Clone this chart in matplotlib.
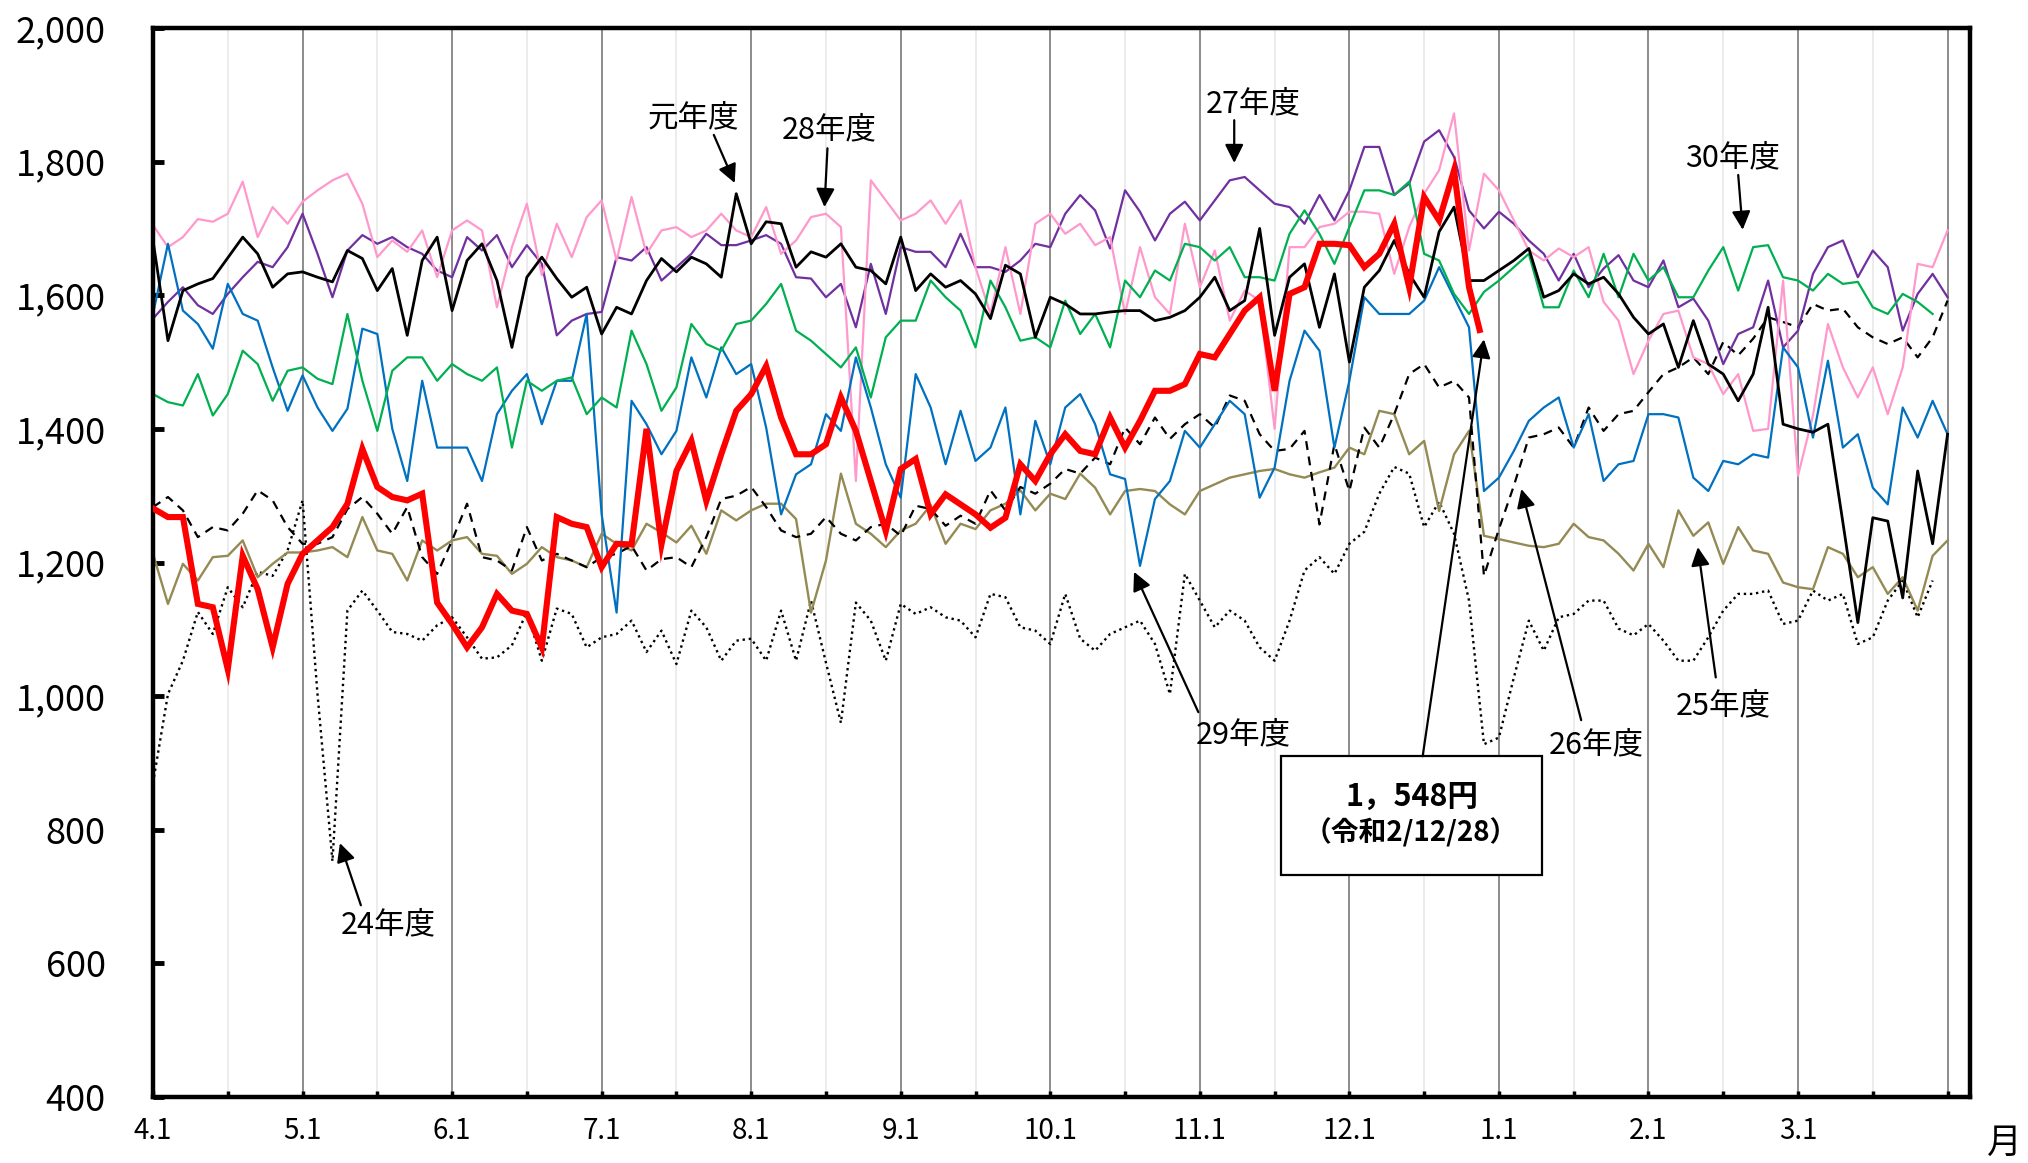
import numpy as np
import matplotlib
matplotlib.use("Agg")
import matplotlib.pyplot as plt
from matplotlib.patches import Rectangle

plt.rcParams["font.family"] = ["Noto Sans CJK JP", "DejaVu Sans"]

MONTH_LABELS = ["4.1", "5.1", "6.1", "7.1", "8.1", "9.1", "10.1", "11.1",
                "12.1", "1.1", "2.1", "3.1"]

month_pos = np.arange(121) / 10

h24 = [870, 1003, 1053, 1126, 1093, 1163, 1133, 1186, 1180, 1218,
       1293, 1003, 753, 1128, 1158, 1128, 1096, 1093, 1083, 1106,
       1118, 1088, 1056, 1058, 1076, 1126, 1053, 1131, 1123, 1073,
       1088, 1093, 1113, 1066, 1098, 1048, 1128, 1103, 1053, 1083,
       1086, 1053, 1128, 1053, 1143, 1050, 960, 1140, 1113, 1053,
       1138, 1123, 1133, 1118, 1113, 1088, 1153, 1148, 1103, 1098,
       1078, 1153, 1086, 1068, 1093, 1103, 1113, 1078, 1003, 1183,
       1143, 1103, 1128, 1113, 1073, 1053, 1113, 1188, 1208, 1183,
       1228, 1246, 1303, 1343, 1333, 1253, 1291, 1243, 1143, 928,
       938, 1028, 1113, 1068, 1118, 1123, 1143, 1143, 1101, 1091,
       1108, 1083, 1053, 1053, 1088, 1128, 1153, 1153, 1158, 1108,
       1113, 1158, 1143, 1153, 1078, 1088, 1143, 1173, 1118, 1173, np.nan]

h25 = [1213, 1138, 1198, 1173, 1208, 1210, 1233, 1178, 1198, 1215,
       1215, 1218, 1223, 1208, 1268, 1218, 1213, 1173, 1233, 1218,
       1233, 1238, 1213, 1210, 1183, 1198, 1223, 1208, 1203, 1193,
       1243, 1228, 1218, 1258, 1245, 1230, 1255, 1213, 1278, 1263,
       1278, 1288, 1288, 1265, 1125, 1203, 1333, 1258, 1243, 1223,
       1248, 1258, 1286, 1228, 1258, 1250, 1278, 1288, 1308, 1278,
       1303, 1295, 1333, 1312, 1272, 1307, 1310, 1307, 1287, 1272,
       1307, 1317, 1327, 1332, 1337, 1340, 1332, 1327, 1335, 1342,
       1372, 1362, 1427, 1422, 1362, 1382, 1277, 1362, 1397, 1240,
       1235, 1230, 1225, 1223, 1228, 1258, 1238, 1233, 1213, 1188,
       1228, 1193, 1278, 1240, 1260, 1198, 1253, 1218, 1213, 1170,
       1163, 1160, 1223, 1213, 1178, 1193, 1153, 1178, 1128, 1210, 1233]

h26 = [1283, 1298, 1278, 1238, 1253, 1248, 1273, 1308, 1293, 1253,
       1228, 1228, 1238, 1280, 1298, 1273, 1243, 1283, 1208, 1183,
       1233, 1288, 1208, 1203, 1188, 1253, 1203, 1213, 1203, 1193,
       1208, 1213, 1225, 1188, 1205, 1208, 1193, 1238, 1295, 1300,
       1313, 1283, 1248, 1238, 1243, 1268, 1243, 1233, 1253, 1258,
       1240, 1285, 1280, 1255, 1270, 1258, 1308, 1278, 1313, 1303,
       1318, 1340, 1333, 1357, 1347, 1402, 1377, 1417, 1385, 1407,
       1422, 1402, 1450, 1442, 1392, 1367, 1370, 1397, 1257, 1377,
       1307, 1402, 1372, 1422, 1482, 1497, 1462, 1472, 1447, 1180,
       1250, 1315, 1387, 1392, 1402, 1372, 1432, 1397, 1422, 1427,
       1455, 1482, 1492, 1507, 1482, 1530, 1510, 1535, 1567, 1560,
       1552, 1587, 1577, 1580, 1552, 1537, 1527, 1537, 1507, 1537, 1592]

h27 = [1565, 1590, 1612, 1585, 1572, 1602, 1627, 1650, 1642, 1672,
       1722, 1662, 1597, 1667, 1690, 1677, 1687, 1672, 1662, 1637,
       1627, 1687, 1667, 1690, 1642, 1675, 1647, 1540, 1562, 1572,
       1575, 1657, 1652, 1672, 1622, 1642, 1662, 1692, 1675, 1675,
       1682, 1690, 1677, 1627, 1625, 1597, 1617, 1552, 1647, 1572,
       1672, 1665, 1665, 1642, 1692, 1642, 1642, 1635, 1652, 1677,
       1672, 1722, 1750, 1727, 1670, 1757, 1725, 1682, 1722, 1740,
       1712, 1742, 1772, 1777, 1757, 1737, 1732, 1707, 1750, 1712,
       1757, 1822, 1822, 1750, 1767, 1830, 1847, 1807, 1727, 1700,
       1725, 1707, 1682, 1662, 1622, 1662, 1612, 1640, 1660, 1622,
       1612, 1652, 1582, 1595, 1562, 1497, 1542, 1552, 1622, 1522,
       1547, 1632, 1672, 1682, 1627, 1667, 1642, 1547, 1602, 1632, 1597]

h28 = [1705, 1672, 1687, 1714, 1710, 1722, 1770, 1687, 1732, 1707,
       1740, 1757, 1772, 1782, 1737, 1657, 1682, 1665, 1697, 1627,
       1697, 1712, 1697, 1582, 1672, 1737, 1630, 1707, 1657, 1717,
       1742, 1652, 1747, 1662, 1697, 1702, 1687, 1697, 1722, 1697,
       1687, 1732, 1662, 1682, 1717, 1722, 1702, 1322, 1772, 1742,
       1712, 1722, 1742, 1707, 1742, 1642, 1572, 1672, 1572, 1707,
       1722, 1692, 1707, 1675, 1687, 1572, 1672, 1597, 1572, 1707,
       1612, 1667, 1562, 1607, 1592, 1400, 1672, 1672, 1702, 1707,
       1725, 1725, 1722, 1632, 1702, 1752, 1787, 1872, 1667, 1782,
       1757, 1712, 1667, 1652, 1670, 1657, 1672, 1590, 1562, 1482,
       1532, 1572, 1577, 1507, 1497, 1452, 1482, 1397, 1400, 1622,
       1330, 1420, 1557, 1492, 1447, 1492, 1422, 1492, 1647, 1642, 1697]

h29 = [1572, 1677, 1577, 1557, 1520, 1617, 1572, 1562, 1492, 1427,
       1480, 1432, 1397, 1430, 1550, 1542, 1400, 1322, 1472, 1372,
       1372, 1372, 1322, 1422, 1457, 1482, 1407, 1472, 1472, 1572,
       1272, 1125, 1442, 1407, 1362, 1397, 1507, 1447, 1522, 1482,
       1497, 1402, 1272, 1332, 1347, 1422, 1397, 1507, 1432, 1347,
       1297, 1482, 1432, 1347, 1427, 1352, 1372, 1432, 1272, 1412,
       1347, 1432, 1452, 1407, 1332, 1325, 1195, 1295, 1322, 1397,
       1372, 1407, 1442, 1422, 1297, 1342, 1472, 1547, 1517, 1372,
       1472, 1597, 1572, 1572, 1572, 1592, 1642, 1597, 1552, 1307,
       1327, 1367, 1412, 1432, 1447, 1372, 1422, 1322, 1347, 1352,
       1422, 1422, 1417, 1327, 1307, 1352, 1347, 1362, 1357, 1522,
       1492, 1387, 1502, 1372, 1392, 1312, 1287, 1432, 1387, 1442, 1392]

h30 = [1452, 1440, 1435, 1482, 1420, 1452, 1517, 1497, 1442, 1487,
       1492, 1475, 1467, 1572, 1472, 1397, 1487, 1507, 1507, 1472,
       1497, 1482, 1472, 1492, 1372, 1472, 1457, 1472, 1477, 1422,
       1447, 1432, 1547, 1497, 1427, 1462, 1557, 1527, 1517, 1557,
       1562, 1587, 1617, 1547, 1532, 1512, 1492, 1522, 1447, 1537,
       1562, 1562, 1622, 1597, 1577, 1522, 1622, 1582, 1532, 1537,
       1522, 1592, 1542, 1572, 1522, 1622, 1597, 1637, 1622, 1677,
       1672, 1652, 1672, 1627, 1627, 1622, 1692, 1727, 1692, 1647,
       1702, 1757, 1757, 1750, 1770, 1662, 1652, 1602, 1572, 1605,
       1622, 1642, 1662, 1582, 1582, 1637, 1597, 1662, 1597, 1662,
       1622, 1642, 1597, 1597, 1637, 1672, 1607, 1672, 1675, 1627,
       1622, 1607, 1632, 1617, 1620, 1582, 1572, 1602, 1590, 1572, np.nan]

r1 = [1682, 1532, 1607, 1617, 1625, 1656, 1687, 1662, 1612, 1632,
      1635, 1627, 1620, 1667, 1655, 1607, 1640, 1540, 1652, 1687,
      1577, 1652, 1677, 1622, 1522, 1627, 1657, 1625, 1597, 1612,
      1542, 1582, 1572, 1622, 1655, 1635, 1657, 1647, 1627, 1752,
      1677, 1710, 1707, 1642, 1665, 1657, 1677, 1642, 1637, 1617,
      1687, 1607, 1632, 1612, 1622, 1602, 1565, 1645, 1632, 1537,
      1597, 1587, 1572, 1572, 1575, 1577, 1577, 1562, 1567, 1577,
      1597, 1627, 1577, 1592, 1700, 1540, 1627, 1647, 1552, 1632,
      1500, 1612, 1637, 1682, 1632, 1597, 1695, 1732, 1622, 1622,
      1637, 1652, 1670, 1597, 1607, 1632, 1617, 1627, 1602, 1567,
      1542, 1557, 1492, 1562, 1497, 1482, 1442, 1482, 1582, 1407,
      1400, 1395, 1407, 1260, 1110, 1267, 1262, 1147, 1337, 1228, 1392]

# current year (令和2年度), up to 12/28
r2 = [1281, 1268, 1268, 1138, 1133, 1040, 1210, 1160, 1073, 1168,
      1213, 1233, 1253, 1288, 1370, 1313, 1298, 1293, 1303, 1140,
      1108, 1073, 1103, 1153, 1128, 1123, 1073, 1268, 1258, 1253,
      1193, 1228, 1227, 1400, 1227, 1337, 1382, 1292, 1362, 1427,
      1452, 1494, 1417, 1362, 1362, 1377, 1447, 1397, 1322, 1247,
      1340, 1355, 1272, 1302, 1287, 1272, 1252, 1267, 1347, 1322,
      1362, 1392, 1367, 1362, 1417, 1372, 1412, 1457, 1457, 1467,
      1512, 1507, 1542, 1577, 1597, 1457, 1602, 1612, 1677, 1677,
      1675, 1642, 1662, 1707, 1612, 1747, 1712, 1787, 1612]
r2_last_pos = 8 + 27 / 31   # 12/28
r2_last = 1548

# (label, text pos, arrow tail, arrow tip) in data units
LABELS = [
    ("元年度", (3.61, 1865), (3.75, 1840), (3.89, 1768)),
    ("28年度", (4.52, 1847), (4.51, 1820), (4.49, 1732)),
    ("27年度", (7.36, 1886), (7.23, 1862), (7.23, 1798)),
    ("30年度", (10.56, 1805), (10.60, 1780), (10.63, 1698)),
    ("24年度", (1.57, 657), (1.39, 687), (1.25, 780)),
    ("29年度", (7.29, 942), (6.99, 976), (6.56, 1186)),
    ("26年度", (9.65, 927), (9.55, 964), (9.15, 1310)),
    ("25年度", (10.50, 985), (10.45, 1028), (10.33, 1223)),
]

W, H = 2028, 1163
fig = plt.figure(figsize=(W / 100, H / 100), dpi=100)
ax = fig.add_axes([153 / W, 1 - 1097 / H, (1970 - 153) / W, (1097 - 28) / H])

for m in range(1, 13):
    ax.axvline(m, color="#8c8c8c", lw=1.4, zorder=0)
for m in np.arange(0.5, 12, 1.0):
    ax.axvline(m, color="#ececec", lw=1.4, zorder=0)

ax.plot(month_pos, h24, color="black", lw=1.7, ls=(0, (1, 1.6)))
ax.plot(month_pos, h25, color="#948a54", lw=1.7)
ax.plot(month_pos, h26, color="black", lw=1.6, ls=(0, (4, 3)))
ax.plot(month_pos, h27, color="#7030a0", lw=1.6)
ax.plot(month_pos, h28, color="#ff99cc", lw=1.6)
ax.plot(month_pos, h29, color="#0070c0", lw=1.6)
ax.plot(month_pos, h30, color="#00b050", lw=1.6)
ax.plot(month_pos, r1, color="black", lw=2.0)
ax.plot(np.append(month_pos[:len(r2)], r2_last_pos), r2 + [r2_last],
        color="#ff0000", lw=4.4, solid_joinstyle="miter", zorder=5)

ax.set_xlim(0, 12.15)
ax.set_ylim(400, 2000)
ax.set_yticks(range(400, 2001, 200))
ax.set_yticklabels([f"{v:,}" for v in range(400, 2001, 200)])
ax.set_xticks(range(13))
ax.set_xticklabels(MONTH_LABELS + [""])
ax.set_xticks(np.arange(0.5, 12, 1.0), minor=True)
ax.tick_params(axis="y", direction="in", length=8, width=3.5, labelsize=26, pad=34)
ax.tick_params(axis="x", which="both", direction="in", length=4, width=2.5,
               labelsize=20, pad=14)
for s in ax.spines.values():
    s.set_linewidth(3.2)

for text, tpos, tail, tip in LABELS:
    ax.text(*tpos, text, fontsize=22, ha="center", va="center")
    ax.annotate("", xy=tip, xytext=tail,
                arrowprops=dict(arrowstyle="-|>", color="black", lw=1.6,
                                mutation_scale=28, shrinkA=0, shrinkB=0))

ax.add_patch(Rectangle((7.54, 733), 9.29 - 7.54, 910 - 733, facecolor="white",
                       edgecolor="black", lw=1.6, zorder=6))
ax.text(8.42, 849, "1，548円", fontsize=22, fontweight="bold", ha="center",
        va="center", zorder=7)
ax.text(8.41, 796, "（令和2/12/28）", fontsize=20, fontweight="bold", ha="center",
        va="center", zorder=7)
ax.annotate("", xy=(8.90, 1534), xytext=(8.49, 910),
            arrowprops=dict(arrowstyle="-|>", color="black", lw=1.6,
                            mutation_scale=28, shrinkA=0, shrinkB=0), zorder=7)

fig.text(2004 / W, 1 - 1143 / H, "月", fontsize=25, ha="center", va="center")

fig.savefig("out.png", dpi=100)
